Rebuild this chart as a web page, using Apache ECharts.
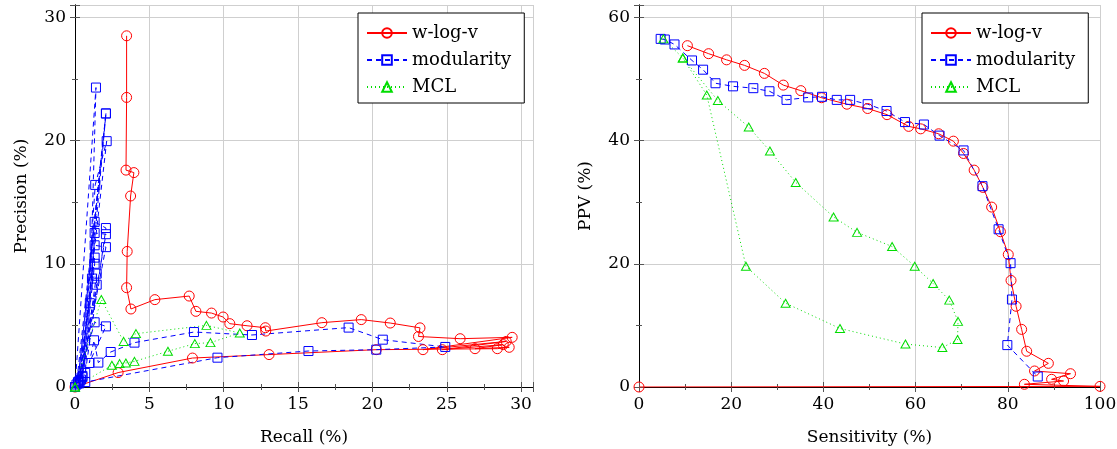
<!DOCTYPE html>
<html>
<head>
<meta charset="utf-8">
<title>Recall/Precision and Sensitivity/PPV</title>
<script src="https://cdn.jsdelivr.net/npm/echarts@6/dist/echarts.min.js"></script>
<style>
html, body { margin: 0; padding: 0; background: #fff; }
#main { width: 1117px; height: 449px; }
</style>
</head>
<body>
<div id="main"></div>
<script>
var seriesNames = ['w-log-v', 'modularity', 'MCL'];

// left plot: [recall, precision] in %
var wlogvPR = [
    [3.47, 28.5], [3.47, 23.5], [3.43, 17.6], [3.96, 17.4], [3.74, 15.5], [3.51, 11.0],
    [3.47, 8.06], [3.76, 6.33], [5.37, 7.09], [7.68, 7.38], [8.13, 6.14], [9.18, 6.0],
    [9.96, 5.68], [10.41, 5.14], [11.57, 4.97], [12.8, 4.81], [12.83, 4.54], [16.6, 5.22],
    [19.25, 5.47], [21.2, 5.19], [23.2, 4.8], [23.1, 4.1], [25.9, 3.92], [29.4, 4.03],
    [23.4, 3.03], [29.0, 3.7], [24.7, 3.03], [28.8, 3.44], [26.9, 3.11], [29.2, 3.22],
    [28.4, 3.11], [20.26, 3.03], [13.05, 2.63], [7.9, 2.35], [2.9, 1.17], [0, 0]
];
var modularityPR = [
    [0, 0], [1.41, 24.3], [1.0, 6.8], [0.1, 0.2], [2.08, 22.2], [0.3, 0.5], [2.13, 19.95],
    [1.36, 16.4], [0.5, 0.9], [2.08, 22.2], [0.2, 0.4], [1.32, 13.4], [2.08, 12.9],
    [0.69, 1.14], [1.32, 12.5], [2.08, 12.4], [0.4, 0.6], [1.32, 11.5], [2.08, 11.35],
    [0.3, 0.3], [1.32, 10.5], [1.32, 10.0], [0.5, 0.8], [1.46, 9.2], [1.14, 8.8],
    [1.46, 8.3], [0.2, 0.3], [1.32, 5.25], [2.08, 4.92], [0.96, 1.95], [1.28, 3.79],
    [1.57, 1.98], [2.4, 2.84], [4.0, 3.6], [8.0, 4.46], [11.9, 4.22], [18.4, 4.82],
    [20.7, 3.84], [24.9, 3.25], [20.26, 3.03], [15.7, 2.92], [9.58, 2.38], [0.69, 0.4], [0, 0]
];
var mclPR = [
    [0, 0], [1.77, 7.1], [3.27, 3.7], [4.1, 4.33], [8.84, 5.0], [11.08, 4.38], [9.11, 3.6],
    [8.06, 3.52], [6.25, 2.9], [4.0, 2.08], [3.42, 1.95], [3.0, 1.9], [2.48, 1.76], [0, 0]
];

// right plot: [sensitivity, PPV] in %
var wlogvSP = [
    [10.5, 55.4], [15.1, 54.1], [19.0, 53.1], [22.9, 52.2], [27.2, 50.9], [31.3, 49.0],
    [35.1, 48.1], [39.6, 46.95], [45.1, 45.9], [49.6, 45.2], [53.8, 44.2], [58.5, 42.3],
    [61.1, 41.9], [65.0, 41.1], [68.2, 39.9], [70.4, 37.9], [72.7, 35.2], [74.6, 32.4],
    [76.5, 29.2], [78.4, 25.2], [80.1, 21.5], [80.7, 17.3], [81.8, 13.1], [83.0, 9.35],
    [84.1, 5.8], [88.8, 3.84], [85.8, 2.6], [93.6, 2.16], [89.5, 1.25], [92.1, 0.97],
    [83.6, 0.44], [100, 0.1], [0, 0]
];
var modularitySP = [
    [4.7, 56.5], [5.6, 56.4], [7.7, 55.6], [11.5, 53.0], [13.9, 51.5], [16.6, 49.3],
    [20.4, 48.8], [24.8, 48.5], [28.3, 48.0], [32.0, 46.6], [36.7, 47.0], [39.7, 47.1],
    [42.9, 46.6], [45.8, 46.6], [49.6, 45.9], [53.7, 44.8], [57.7, 43.0], [61.8, 42.6],
    [65.2, 40.8], [70.4, 38.4], [74.5, 32.6], [78.0, 25.6], [80.6, 20.1], [80.9, 14.2],
    [79.9, 6.8], [86.5, 1.7]
];
var mclSP = [
    [5.3, 56.5], [9.5, 53.4], [17.1, 46.5], [23.8, 42.2], [28.4, 38.3], [34.0, 33.2],
    [42.2, 27.6], [47.3, 25.1], [54.9, 22.8], [59.8, 19.6], [63.8, 16.8], [67.3, 14.1],
    [69.2, 10.65], [69.1, 7.7], [65.8, 6.4], [57.8, 6.97], [43.6, 9.5], [31.8, 13.6],
    [23.2, 19.6], [14.7, 47.4], [9.5, 53.4]
];

// tick labels and axis ends
var recallTicks = [0, 5, 10, 15, 20, 25, 30];
var precisionTicks = [0, 10, 20, 30];
var sensitivityTicks = [0, 20, 40, 60, 80, 100];
var ppvTicks = [0, 20, 40, 60];
var recallMax = 30.8, precisionMax = 31, sensitivityMax = 100, ppvMax = 62;

var font = 'DejaVu Serif';
var chart = echarts.init(document.getElementById('main'));

// one axis of the box; side axes (top/right) only carry ticks
function makeAxis(gridIndex, position, ticks, max, name, nameGap, withLabels) {
    var horizontal = position == 'bottom' || position == 'top';
    return {
        type: 'value',
        gridIndex: gridIndex,
        position: position,
        min: ticks[0],
        max: max,
        interval: ticks[1] - ticks[0],
        name: withLabels ? name : '',
        nameLocation: 'middle',
        nameGap: nameGap,
        nameTextStyle: { fontFamily: font, fontSize: 17, color: '#000' },
        axisLine: { show: true, lineStyle: { color: '#000', width: 1 } },
        axisTick: { show: true, inside: true, length: 5, lineStyle: { color: '#555' } },
        minorTick: { show: true, splitNumber: 2, length: 3, lineStyle: { color: '#555' } },
        axisLabel: {
            show: withLabels,
            margin: horizontal ? 9 : 9,
            fontFamily: font,
            fontSize: 17,
            color: '#000',
            showMaxLabel: ticks.indexOf(max) >= 0,
            formatter: function (v) { return ticks.indexOf(v) >= 0 ? String(v) : ''; }
        },
        splitLine: { show: withLabels, lineStyle: { color: '#cfcfcf', width: 1 } }
    };
}

var styles = [
    { color: '#ff0000', symbol: 'circle', size: 10, type: 'solid' },
    { color: '#0000ff', symbol: 'rect', size: 9, type: [5, 4] },
    { color: '#00dd00', symbol: 'triangle', size: [9, 8], type: [1, 3] }
];

function makeSeries(idx, gridNo, data) {
    var s = styles[idx];
    return {
        name: seriesNames[idx],
        type: 'line',
        xAxisIndex: gridNo * 2,
        yAxisIndex: gridNo * 2,
        data: data,
        symbol: s.symbol,
        symbolSize: s.size,
        showAllSymbol: true,
        lineStyle: { color: s.color, width: 1, type: s.type },
        itemStyle: { color: 'rgba(255,255,255,0)', borderColor: s.color, borderWidth: 1 },
        emphasis: { disabled: true }
    };
}

function makeLegend(left) {
    return {
        data: seriesNames,
        orient: 'vertical',
        left: left,
        top: 13,
        itemWidth: 40,
        itemHeight: 12,
        itemGap: 9,
        padding: [11, 13, 7, 8],
        backgroundColor: '#fff',
        borderColor: '#000',
        borderWidth: 1,
        borderRadius: 0,
        selectedMode: false,
        textStyle: { fontFamily: font, fontSize: 18, color: '#000' }
    };
}

var option = {
    animation: false,
    backgroundColor: '#fff',
    grid: [
        { left: 75, top: 5, width: 458, height: 382, outerBoundsMode: 'none' },
        { left: 639, top: 5, width: 461, height: 382, outerBoundsMode: 'none' }
    ],
    xAxis: [
        makeAxis(0, 'bottom', recallTicks, recallMax, 'Recall (%)', 42, true),
        makeAxis(0, 'top', recallTicks, recallMax, '', 0, false),
        makeAxis(1, 'bottom', sensitivityTicks, sensitivityMax, 'Sensitivity (%)', 42, true),
        makeAxis(1, 'top', sensitivityTicks, sensitivityMax, '', 0, false)
    ],
    yAxis: [
        makeAxis(0, 'left', precisionTicks, precisionMax, 'Precision (%)', 45, true),
        makeAxis(0, 'right', precisionTicks, precisionMax, '', 0, false),
        makeAxis(1, 'left', ppvTicks, ppvMax, 'PPV (%)', 45, true),
        makeAxis(1, 'right', ppvTicks, ppvMax, '', 0, false)
    ],
    legend: [makeLegend(358), makeLegend(922)],
    series: [
        makeSeries(0, 0, wlogvPR),
        makeSeries(1, 0, modularityPR),
        makeSeries(2, 0, mclPR),
        makeSeries(0, 1, wlogvSP),
        makeSeries(1, 1, modularitySP),
        makeSeries(2, 1, mclSP)
    ]
};

chart.setOption(option);
</script>
</body>
</html>
